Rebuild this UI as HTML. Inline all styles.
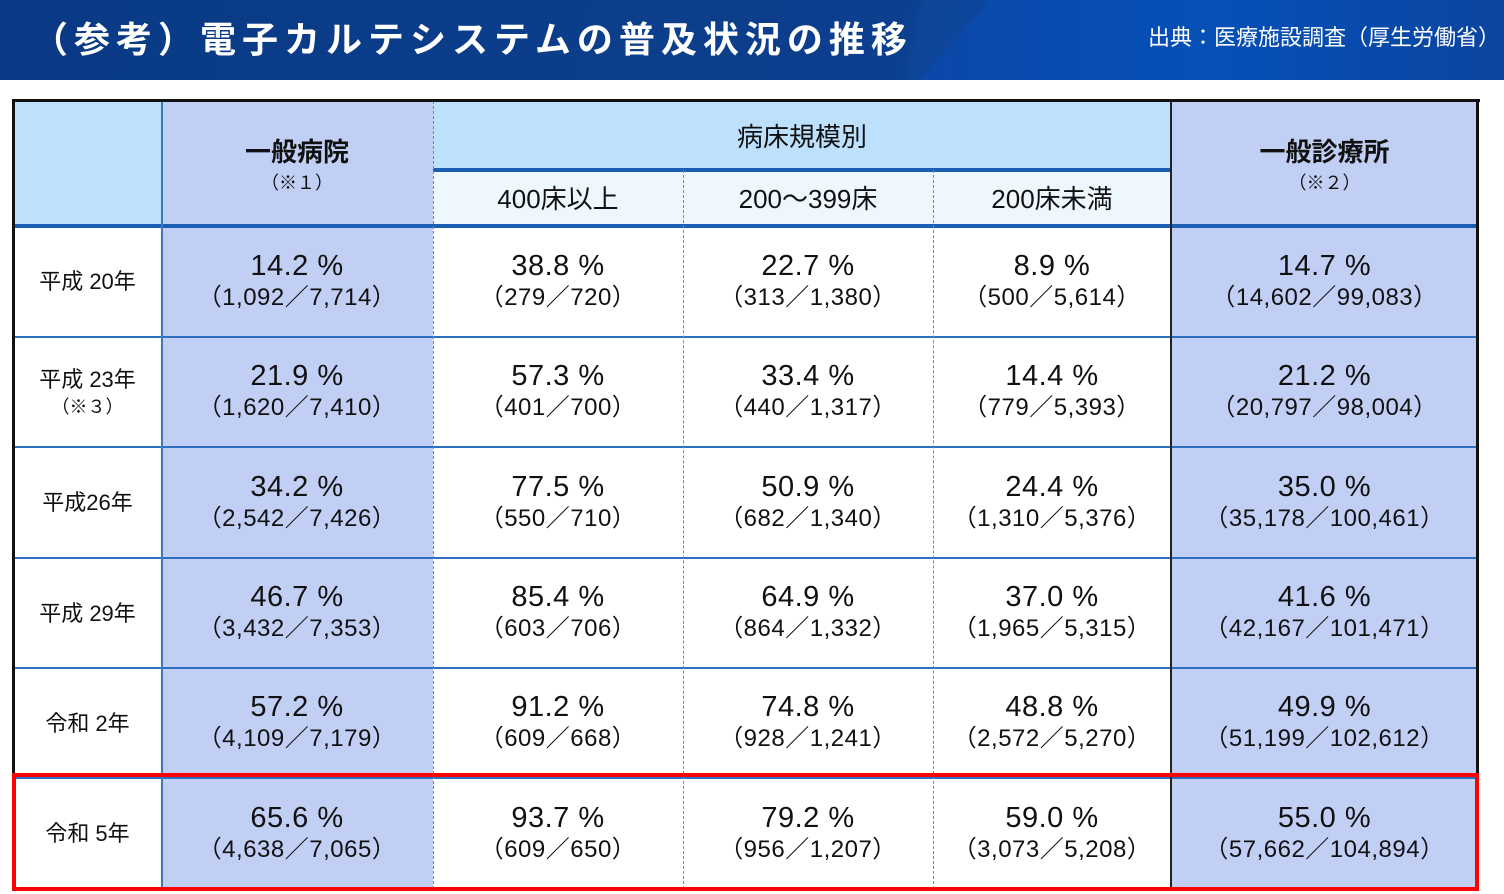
<!DOCTYPE html>
<html><head><meta charset="utf-8">
<style>
body{margin:0;width:1504px;height:894px;background:#fff;position:relative;overflow:hidden;font-family:"Liberation Sans","Noto Sans CJK JP",sans-serif;}
#bar{position:absolute;left:0;top:0;width:1504px;height:80px;background:linear-gradient(100deg,#0a3a85 0%,#0c3f8e 60%,#0d4598 61%,#0a4bb0 80%,#0a4aa8 100%);}
#bar2{position:absolute;left:920px;top:0;width:584px;height:80px;background:linear-gradient(90deg,#0b48a8,#0650b8 50%,#0a45a0);clip-path:polygon(70px 0,584px 0,584px 80px,0 80px);}
#title{position:absolute;left:32px;top:11px;color:#fff;font-size:36px;font-weight:bold;letter-spacing:6px;white-space:nowrap;}
#src{position:absolute;right:4px;top:20px;color:#fff;font-size:22px;white-space:nowrap;}
.c{position:absolute;box-sizing:border-box;display:flex;flex-direction:column;align-items:center;justify-content:center;text-align:center;color:#111;}
.p{font-size:29px;line-height:31px;letter-spacing:0.5px;}
.f{font-size:24px;line-height:31px;letter-spacing:0.5px;}
.lbl{font-size:22px;line-height:27px;}
.h{font-size:26px;}
.hb{font-size:26px;font-weight:bold;}
.n{font-size:18px;}
.ln{position:absolute;}
</style></head><body>
<div id="bar"></div>
<div id="bar2"></div>
<div id="title">（参考）電子カルテシステムの普及状況の推移</div>
<div id="src">出典：医療施設調査（厚生労働省）</div>
<div id="tbl"></div>
<script>
const years=["平成 20年","平成 23年","平成26年","平成 29年","令和 2年","令和 5年"];
const generalHosp=[["14.2 %","（1,092／7,714）"],["21.9 %","（1,620／7,410）"],["34.2 %","（2,542／7,426）"],["46.7 %","（3,432／7,353）"],["57.2 %","（4,109／7,179）"],["65.6 %","（4,638／7,065）"]];
const beds400=[["38.8 %","（279／720）"],["57.3 %","（401／700）"],["77.5 %","（550／710）"],["85.4 %","（603／706）"],["91.2 %","（609／668）"],["93.7 %","（609／650）"]];
const beds200=[["22.7 %","（313／1,380）"],["33.4 %","（440／1,317）"],["50.9 %","（682／1,340）"],["64.9 %","（864／1,332）"],["74.8 %","（928／1,241）"],["79.2 %","（956／1,207）"]];
const bedsUnder=[["8.9 %","（500／5,614）"],["14.4 %","（779／5,393）"],["24.4 %","（1,310／5,376）"],["37.0 %","（1,965／5,315）"],["48.8 %","（2,572／5,270）"],["59.0 %","（3,073／5,208）"]];
const clinics=[["14.7 %","（14,602／99,083）"],["21.2 %","（20,797／98,004）"],["35.0 %","（35,178／100,461）"],["41.6 %","（42,167／101,471）"],["49.9 %","（51,199／102,612）"],["55.0 %","（57,662／104,894）"]];
const cols=[14,161,433,683,933,1171,1478];
const rows=[226,337,447,558,668,778,889];
const B=document.body;
function cell(x,y,w,h,bg,html,name){
 const d=document.createElement('div');d.className='c';
 d.style.cssText=`left:${x}px;top:${y}px;width:${w}px;height:${h}px;background:${bg}`;
 d.innerHTML=html;
 
 
 B.appendChild(d);return d;}
function line(x,y,w,h,css,name){
 const d=document.createElement('div');d.className='ln';
 d.style.cssText=`left:${x}px;top:${y}px;width:${w}px;height:${h}px;${css}`;
 
 
 B.appendChild(d);}
cell(14,101,147,125,'#bde0fd','','header-corner');
cell(161,101,272,125,'#c1cff5','<div class="hb">一般病院</div><div class="n">（※１）</div>','header-general-hospital');
cell(433,101,738,69,'#bde0fd','<div class="h">病床規模別</div>','header-bed-scale');
const sub=["400床以上","200～399床","200床未満"];
for(let i=0;i<3;i++)cell(cols[2+i],170,cols[3+i]-cols[2+i],54,'#eef6fe','<div class="h">'+sub[i]+'</div>','header-'+(i+1));
cell(1171,101,307,125,'#c1cff5','<div class="hb">一般診療所</div><div class="n">（※２）</div>','header-clinic');
const data=[generalHosp,beds400,beds200,bedsUnder,clinics];
const bgs=['#c1cff5','#fff','#fff','#fff','#c1cff5'];
for(let r=0;r<years.length;r++){
 const y=rows[r],h=rows[r+1]-y;
 let lb='<div class="lbl">'+years[r]+'</div>';
 if(r===1)lb+='<div class="n">（※３）</div>';
 cell(14,y,147,h,'#fff',lb,'row-label-'+r);
 for(let c=0;c<5;c++){
  cell(cols[c+1],y,cols[c+2]-cols[c+1],h,bgs[c],'<div class="p">'+data[c][r][0]+'</div><div class="f">'+data[c][r][1]+'</div>','cell-r'+r+'-c'+c);
 }
}
for(const y of rows.slice(1,-1))line(14,y-1,1464,2,'background:#2a6fc0','row-line');
line(14,224,1464,4,'background:#1a5fb4','header-bottom-line');
line(433,168,738,4,'background:#1a5fb4','subheader-line');
line(161,101,2,788,'background:#3a78c6','col-line-1');
line(1170,101,2,788,'background:#222','col-line-5');
for(const x of [433,683,933])line(x,x===433?101:170,0,x===433?788:719,'border-left:1.5px dashed #3d95e8','dashed-col-line');
line(12,99,1468,3,'background:#111','table-top');
line(12,99,3,790,'background:#111','table-left');
line(1476,99,3,790,'background:#111','table-right');
line(12,773,1467,118,'border:4px solid #f00;box-sizing:border-box','highlight-box');
</script>
</body></html>
